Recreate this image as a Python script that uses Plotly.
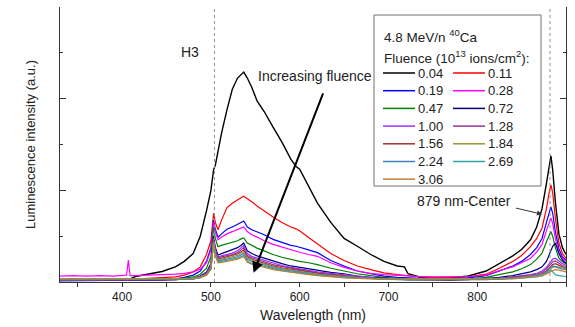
import plotly.graph_objects as go

# Wavelength grid (nm) shared by all spectra
WAVELENGTH = [330, 345, 360, 375, 390, 400, 405, 407, 409, 415,
              430, 445, 460, 470, 480, 488, 495, 500, 503, 505,
              508, 512, 518, 524, 530, 534, 537, 541, 546, 552,
              560, 570, 580, 590, 596, 600, 610, 620, 635, 650,
              665, 680, 695, 710, 718, 722, 735, 750, 770, 790,
              810, 825, 840, 850, 860, 867, 873, 878, 881, 883,
              885, 888, 892, 896, 900]

# Luminescence intensity (a.u.) for each fluence
f004 = [0.05, 0.06, 0.05, 0.06, 0.06, 0.07, 0.07, 0.07, 0.07, 0.12,
        0.17, 0.23, 0.33, 0.45, 0.62, 1.0, 1.55, 2.0, 2.45, 2.55,
        2.85, 3.25, 3.75, 4.2, 4.45, 4.52, 4.58, 4.45, 4.25, 3.95,
        3.72, 3.38, 3.05, 2.68, 2.52, 2.46, 2.1, 1.72, 1.3, 0.95,
        0.78, 0.6, 0.45, 0.35, 0.33, 0.18, 0.11, 0.09, 0.09, 0.13,
        0.24, 0.4, 0.57, 0.71, 0.92, 1.2, 1.6, 2.15, 2.55, 2.75,
        2.45, 1.75, 1.05, 0.75, 0.6]
f011 = [0.06, 0.06, 0.07, 0.06, 0.07, 0.07, 0.07, 0.07, 0.07, 0.07,
        0.08, 0.09, 0.11, 0.15, 0.22, 0.33, 0.6, 0.9, 1.5, 1.3,
        1.14, 1.35, 1.62, 1.72, 1.8, 1.84, 1.87, 1.82, 1.75, 1.66,
        1.55, 1.42, 1.3, 1.2, 1.16, 1.12, 0.97, 0.83, 0.62, 0.47,
        0.35, 0.27, 0.2, 0.16, 0.14, 0.13, 0.11, 0.1, 0.1, 0.11,
        0.17, 0.3, 0.45, 0.58, 0.77, 0.95, 1.18, 1.6, 1.95, 2.12,
        1.95, 1.4, 0.85, 0.62, 0.52]
f019 = [0.03, 0.03, 0.03, 0.03, 0.03, 0.03, 0.03, 0.03, 0.03, 0.03,
        0.04, 0.05, 0.07, 0.1, 0.15, 0.24, 0.45, 0.75, 1.35, 1.15,
        0.98, 1.05, 1.15, 1.2, 1.25, 1.3, 1.33, 1.2, 1.14, 1.1,
        1.03, 0.93, 0.86, 0.8, 0.78, 0.76, 0.7, 0.64, 0.47, 0.35,
        0.24, 0.18, 0.13, 0.1, 0.09, 0.09, 0.08, 0.07, 0.07, 0.09,
        0.14, 0.24, 0.35, 0.45, 0.6, 0.75, 0.95, 1.3, 1.52, 1.64,
        1.5, 1.1, 0.72, 0.55, 0.48]
f028 = [0.13, 0.14, 0.13, 0.14, 0.13, 0.14, 0.15, 0.48, 0.14, 0.14,
        0.15, 0.15, 0.17, 0.19, 0.22, 0.28, 0.42, 0.7, 1.3, 1.1,
        0.92, 0.98, 1.05, 1.1, 1.14, 1.18, 1.2, 1.1, 1.03, 0.98,
        0.9, 0.82, 0.76, 0.7, 0.67, 0.65, 0.6, 0.56, 0.42, 0.32,
        0.24, 0.19, 0.16, 0.14, 0.13, 0.13, 0.12, 0.11, 0.11, 0.12,
        0.15, 0.25, 0.33, 0.42, 0.52, 0.65, 0.82, 1.12, 1.3, 1.4,
        1.28, 0.95, 0.65, 0.52, 0.45]
f047 = [0.04, 0.04, 0.04, 0.04, 0.04, 0.04, 0.04, 0.04, 0.04, 0.04,
        0.05, 0.05, 0.06, 0.08, 0.11, 0.17, 0.3, 0.55, 1.2, 0.95,
        0.77, 0.8, 0.83, 0.86, 0.9, 0.94, 0.96, 0.85, 0.8, 0.74,
        0.68, 0.6, 0.54, 0.49, 0.46, 0.45, 0.42, 0.38, 0.3, 0.24,
        0.18, 0.14, 0.1, 0.08, 0.07, 0.07, 0.06, 0.06, 0.06, 0.07,
        0.1, 0.16, 0.22, 0.29, 0.38, 0.5, 0.63, 0.88, 1.03, 1.1,
        1.0, 0.75, 0.52, 0.44, 0.4]
f072 = [0.03, 0.03, 0.03, 0.03, 0.03, 0.03, 0.03, 0.03, 0.03, 0.03,
        0.03, 0.04, 0.05, 0.06, 0.08, 0.13, 0.22, 0.4, 1.0, 0.75,
        0.59, 0.62, 0.66, 0.7, 0.75, 0.8, 0.85, 0.68, 0.62, 0.57,
        0.52, 0.45, 0.4, 0.35, 0.33, 0.32, 0.28, 0.25, 0.21, 0.18,
        0.13, 0.1, 0.08, 0.06, 0.05, 0.05, 0.05, 0.04, 0.04, 0.05,
        0.07, 0.1, 0.14, 0.18, 0.22, 0.27, 0.33, 0.45, 0.58, 0.7,
        0.78, 0.85, 0.62, 0.48, 0.41]
f100 = [0.04, 0.04, 0.04, 0.04, 0.04, 0.04, 0.04, 0.04, 0.04, 0.04,
        0.04, 0.05, 0.05, 0.06, 0.08, 0.12, 0.2, 0.36, 0.95, 0.7,
        0.55, 0.57, 0.6, 0.63, 0.68, 0.74, 0.8, 0.62, 0.56, 0.52,
        0.47, 0.41, 0.36, 0.32, 0.3, 0.29, 0.25, 0.22, 0.19, 0.16,
        0.12, 0.09, 0.07, 0.06, 0.05, 0.05, 0.05, 0.05, 0.05, 0.05,
        0.06, 0.08, 0.11, 0.13, 0.16, 0.19, 0.24, 0.32, 0.4, 0.45,
        0.5, 0.52, 0.45, 0.4, 0.37]
f128 = [0.04, 0.04, 0.04, 0.04, 0.04, 0.04, 0.04, 0.04, 0.04, 0.04,
        0.04, 0.05, 0.05, 0.06, 0.07, 0.11, 0.19, 0.34, 0.92, 0.68,
        0.53, 0.55, 0.57, 0.6, 0.64, 0.7, 0.75, 0.58, 0.53, 0.49,
        0.44, 0.38, 0.34, 0.3, 0.28, 0.27, 0.23, 0.2, 0.17, 0.14,
        0.11, 0.08, 0.07, 0.06, 0.05, 0.05, 0.05, 0.05, 0.05, 0.05,
        0.06, 0.07, 0.1, 0.12, 0.14, 0.17, 0.21, 0.28, 0.35, 0.4,
        0.44, 0.46, 0.4, 0.36, 0.34]
f156 = [0.05, 0.05, 0.05, 0.05, 0.05, 0.05, 0.05, 0.05, 0.05, 0.05,
        0.05, 0.05, 0.06, 0.06, 0.07, 0.1, 0.18, 0.32, 0.9, 0.65,
        0.5, 0.52, 0.54, 0.57, 0.61, 0.66, 0.7, 0.55, 0.5, 0.46,
        0.41, 0.35, 0.31, 0.28, 0.26, 0.25, 0.21, 0.18, 0.15, 0.13,
        0.1, 0.08, 0.06, 0.05, 0.05, 0.05, 0.05, 0.05, 0.05, 0.05,
        0.05, 0.07, 0.09, 0.11, 0.13, 0.15, 0.18, 0.24, 0.3, 0.35,
        0.38, 0.4, 0.36, 0.33, 0.31]
f184 = [0.06, 0.06, 0.06, 0.06, 0.06, 0.06, 0.06, 0.06, 0.06, 0.06,
        0.06, 0.06, 0.06, 0.07, 0.08, 0.1, 0.17, 0.3, 0.88, 0.62,
        0.48, 0.5, 0.52, 0.55, 0.58, 0.62, 0.66, 0.52, 0.48, 0.44,
        0.39, 0.33, 0.29, 0.26, 0.24, 0.23, 0.2, 0.17, 0.14, 0.12,
        0.09, 0.07, 0.06, 0.06, 0.06, 0.06, 0.06, 0.06, 0.06, 0.06,
        0.06, 0.07, 0.08, 0.1, 0.12, 0.14, 0.16, 0.2, 0.25, 0.29,
        0.32, 0.34, 0.32, 0.3, 0.29]
f224 = [0.05, 0.05, 0.05, 0.05, 0.05, 0.05, 0.05, 0.05, 0.05, 0.05,
        0.05, 0.05, 0.06, 0.06, 0.07, 0.1, 0.16, 0.29, 0.86, 0.6,
        0.46, 0.48, 0.5, 0.52, 0.55, 0.59, 0.62, 0.49, 0.45, 0.41,
        0.37, 0.31, 0.27, 0.24, 0.22, 0.21, 0.18, 0.16, 0.13, 0.11,
        0.09, 0.07, 0.06, 0.05, 0.05, 0.05, 0.05, 0.05, 0.05, 0.05,
        0.05, 0.06, 0.08, 0.1, 0.12, 0.14, 0.17, 0.22, 0.28, 0.32,
        0.35, 0.33, 0.3, 0.28, 0.27]
f269 = [0.05, 0.05, 0.05, 0.05, 0.05, 0.05, 0.05, 0.05, 0.05, 0.05,
        0.05, 0.05, 0.05, 0.06, 0.07, 0.09, 0.15, 0.28, 0.85, 0.58,
        0.44, 0.45, 0.47, 0.49, 0.52, 0.55, 0.58, 0.45, 0.41, 0.38,
        0.34, 0.29, 0.25, 0.22, 0.2, 0.2, 0.17, 0.15, 0.12, 0.1,
        0.08, 0.07, 0.06, 0.05, 0.05, 0.05, 0.05, 0.05, 0.05, 0.05,
        0.05, 0.06, 0.07, 0.08, 0.09, 0.11, 0.13, 0.18, 0.23, 0.26,
        0.22, 0.16, 0.14, 0.13, 0.12]
f306 = [0.07, 0.07, 0.07, 0.07, 0.07, 0.07, 0.07, 0.07, 0.07, 0.07,
        0.07, 0.07, 0.07, 0.07, 0.08, 0.1, 0.15, 0.27, 0.83, 0.56,
        0.42, 0.43, 0.45, 0.47, 0.5, 0.53, 0.55, 0.43, 0.39, 0.36,
        0.32, 0.27, 0.24, 0.21, 0.19, 0.18, 0.16, 0.14, 0.11, 0.09,
        0.08, 0.07, 0.07, 0.07, 0.07, 0.07, 0.07, 0.07, 0.07, 0.07,
        0.07, 0.07, 0.08, 0.09, 0.1, 0.12, 0.14, 0.17, 0.2, 0.23,
        0.25, 0.27, 0.26, 0.24, 0.22]

FLUENCE_LABELS = ["0.04", "0.11", "0.19", "0.28", "0.47", "0.72", "1.00",
                  "1.28", "1.56", "1.84", "2.24", "2.69", "3.06"]
SPECTRA = [f004, f011, f019, f028, f047, f072, f100,
           f128, f156, f184, f224, f269, f306]

# Line colours, one per fluence
COLORS = ["#000000", "#ff0000", "#0000ff", "#ff00ff", "#008000", "#000080",
          "#9b30ff", "#993399", "#a03030", "#999933", "#4080c0", "#33a0a0",
          "#c08030"]

H3_LINE = 504
NIR_LINE = 882

FONT = "Liberation Sans, Arial, sans-serif"

W, H = 575, 327
ML, MR, MT, MB = 60, 9, 7, 45
PW, PH = W - ML - MR, H - MT - MB


def px_x(p):
    return (p - ML) / PW


def px_y(p):
    return (H - MB - p) / PH


fig = go.Figure()

for vals, lab, col in zip(SPECTRA, FLUENCE_LABELS, COLORS):
    fig.add_trace(go.Scatter(
        x=WAVELENGTH, y=vals, mode="lines", name=lab,
        line=dict(color=col, width=1.4 if col == "#000000" else 1.2),
        showlegend=False,
    ))

shapes = []
# dotted markers of the H3 and 879 nm centres
for xv in (H3_LINE, NIR_LINE):
    shapes.append(dict(type="line", xref="x", yref="paper", x0=xv, x1=xv,
                       y0=0, y1=1, line=dict(color="#909090", width=1, dash="dot")))

# legend frame
shapes.append(dict(type="rect", xref="paper", yref="paper",
                   x0=px_x(374), x1=px_x(541), y0=px_y(186), y1=px_y(15),
                   line=dict(color="#707070", width=1), fillcolor="white"))

annotations = [
    dict(x=px_x(382), y=px_y(36), xref="paper", yref="paper", xanchor="left",
         yanchor="middle", showarrow=False,
         text="4.8 MeV/n <sup>40</sup>Ca", font=dict(size=13.5, color="#222")),
    dict(x=px_x(382), y=px_y(57), xref="paper", yref="paper", xanchor="left",
         yanchor="middle", showarrow=False,
         text="Fluence (10<sup>13</sup> ions/cm<sup>2</sup>):",
         font=dict(size=13.5, color="#222")),
]

row_y = 73
row_step = 17.7
for i, (lab, col) in enumerate(zip(FLUENCE_LABELS, COLORS)):
    c, r = i % 2, i // 2
    yp = px_y(row_y + r * row_step)
    x0 = 383 if c == 0 else 453
    shapes.append(dict(type="line", xref="paper", yref="paper",
                       x0=px_x(x0), x1=px_x(x0 + 32), y0=yp, y1=yp,
                       line=dict(color=col, width=1.5)))
    annotations.append(dict(x=px_x(x0 + 33), y=yp, xref="paper", yref="paper",
                            xanchor="left", yanchor="middle", showarrow=False,
                            text=lab, font=dict(size=13, color="#222")))

annotations += [
    dict(x=477, y=5.02, xref="x", yref="y", text="H3", showarrow=False,
         font=dict(size=14, color="#222")),
    dict(x=617, y=4.5, xref="x", yref="y", text="Increasing fluence",
         showarrow=False, font=dict(size=14, color="#222")),
    dict(x=548, y=0.2, xref="x", yref="y", ax=627, ay=4.15, axref="x", ayref="y",
         text="", showarrow=True, arrowhead=2, arrowsize=1.1, arrowwidth=2,
         arrowcolor="#000"),
    dict(x=785, y=1.77, xref="x", yref="y", text="879 nm-Center",
         showarrow=False, font=dict(size=14, color="#222")),
    dict(x=873, y=1.48, xref="x", yref="y", ax=842, ay=1.62, axref="x", ayref="y",
         text="", showarrow=True, arrowhead=2, arrowsize=1, arrowwidth=1,
         arrowcolor="#333"),
]

fig.update_layout(
    width=W, height=H,
    margin=dict(l=ML, r=MR, t=MT, b=MB),
    paper_bgcolor="white", plot_bgcolor="white",
    font=dict(family=FONT, size=12, color="#222"),
    shapes=shapes, annotations=annotations,
    xaxis=dict(range=[330, 900], showgrid=False, zeroline=False,
               showline=True, linecolor="#333", linewidth=1,
               ticks="outside", ticklen=4, tickcolor="#333",
               tickmode="linear", tick0=400, dtick=100,
               minor=dict(ticks="outside", ticklen=4, tickcolor="#333",
                          dtick=50, tick0=350),
               tickfont=dict(size=12),
               title=dict(text="Wavelength (nm)", font=dict(size=14), standoff=6)),
    xaxis2=dict(range=[330, 900], overlaying="x", side="top", anchor="y",
                showgrid=False, zeroline=False, showline=True,
                linecolor="#333", linewidth=1, ticks="inside", ticklen=5,
                tickcolor="#333", tickmode="linear", tick0=350, dtick=50,
                showticklabels=False),
    yaxis=dict(range=[0, 6], showgrid=False, zeroline=False,
               showline=True, linecolor="#333", linewidth=1, mirror="ticks",
               ticks="inside", ticklen=6, tickcolor="#333",
               tickmode="linear", tick0=0, dtick=2, showticklabels=False,
               minor=dict(ticks="inside", ticklen=3, tickcolor="#333", dtick=1),
               title=dict(text="Luminescence intensity (a.u.)",
                          font=dict(size=13), standoff=20)),
)

fig.write_html("out.html")
